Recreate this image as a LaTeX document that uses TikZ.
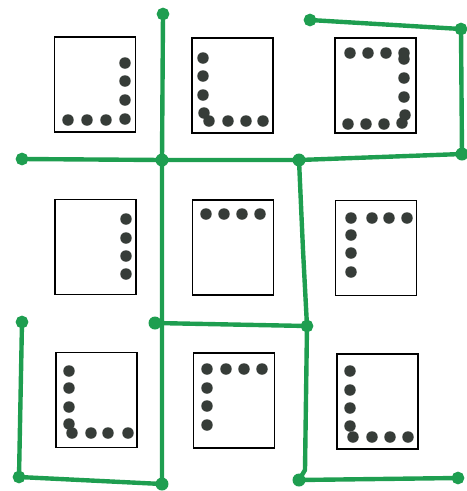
\documentclass[tikz,border=0pt]{standalone}
\usepackage{xcolor}
\usepackage{tikz}
\definecolor{pen}{HTML}{1E9E50}
\definecolor{ink}{HTML}{363C38}

\begin{document}
\begin{tikzpicture}[
  x=0.02cm, y=-0.02cm,
  box/.style={draw=black, line width=0.85pt, inner sep=0pt,
              minimum width=1.62cm, minimum height=1.9cm},
  bead/.style={fill=ink},
  trail/.style={draw=pen, line width=2.5pt, line cap=round, line join=round},
  ring/.style={draw=pen, line width=2.8pt},
  knot/.style={fill=pen}
]
  \useasboundingbox (0,0) rectangle (467,491);

  % boxes, row by row
  \node[box] (b1) at (95,84.5) {};
  \node[box] (b2) at (232.5,85.5) {};
  \node[box] (b3) at (375.5,85.5) {};
  \node[box] (b4) at (95.5,247) {};
  \node[box] (b5) at (233,247.5) {};
  \node[box] (b6) at (376,248) {};
  \node[box] (b7) at (96.5,400) {};
  \node[box] (b8) at (234,400.5) {};
  \node[box] (b9) at (377.5,401.5) {};

  % beads inside the boxes
  \foreach \p in {(68,120),(87,120),(106,120),(125,119),(125,100),(125,81),(125,63)}
    \fill[bead] \p circle[radius=0.115cm];
  \foreach \p in {(203,58),(203,76),(203,95),(204,113),(209,121),(228,121),(246,121),(263,121)}
    \fill[bead] \p circle[radius=0.115cm];
  \foreach \p in {(350,53),(368,53),(386,53),(404,53),(404,59),(404,78),(404,97),(405,115),
                  (348,124),(366,124),(384,124),(402,123)}
    \fill[bead] \p circle[radius=0.115cm];
  \foreach \p in {(126,219),(126,238),(126,256),(126,274)}
    \fill[bead] \p circle[radius=0.115cm];
  \foreach \p in {(206,214),(224,214),(242,214),(260,214)}
    \fill[bead] \p circle[radius=0.115cm];
  \foreach \p in {(351,218),(372,218),(389,218),(407,218),(351,235),(351,253),(351,272)}
    \fill[bead] \p circle[radius=0.115cm];
  \foreach \p in {(69,371),(69,388),(69,407),(69,424),(72,433),(91,433),(108,433),(128,433)}
    \fill[bead] \p circle[radius=0.115cm];
  \foreach \p in {(207,369),(226,369),(244,369),(262,369),(207,388),(207,406),(207,425)}
    \fill[bead] \p circle[radius=0.115cm];
  \foreach \p in {(350,371),(350,390),(350,408),(350,426),(353,437),(372,437),(390,437),(408,437)}
    \fill[bead] \p circle[radius=0.115cm];

  % green pen points
  \coordinate (t1) at (163,14);
  \coordinate (l1) at (22,159);
  \coordinate (j1) at (162,160);
  \coordinate (j2) at (299,160);
  \coordinate (j3) at (462,154);
  \coordinate (t2) at (310,20);
  \coordinate (t3) at (461,29);
  \coordinate (m1) at (155,323);
  \coordinate (m2) at (307,326);
  \coordinate (l2) at (22,322);
  \coordinate (l3) at (19,477);
  \coordinate (g1) at (162,484);
  \coordinate (g2) at (299,480);
  \coordinate (g3) at (458,478);

  % green trails
  \draw[trail] (t1) -- (j1) -- (g1);
  \draw[trail] (l1) -- (j1) -- (j2) -- (j3);
  \draw[trail] (t2) -- (t3) -- (j3);
  \draw[trail] (j2) -- (303,250) -- (m2) -- (305,470) -- (g2);
  \draw[trail] (m1) -- (m2);
  \draw[trail] (l2) -- (l3) -- (g1);
  \draw[trail] (g2) -- (g3);

  % loops and knots at the ends
  \foreach \c in {t1,l1,t2,t3,m2,l2,l3,g3}
    \draw[ring] (\c) circle[radius=0.075cm];
  \foreach \c in {j1,j2,j3,m1,g1,g2}
    \fill[knot] (\c) circle[radius=0.13cm];
\end{tikzpicture}
\end{document}
